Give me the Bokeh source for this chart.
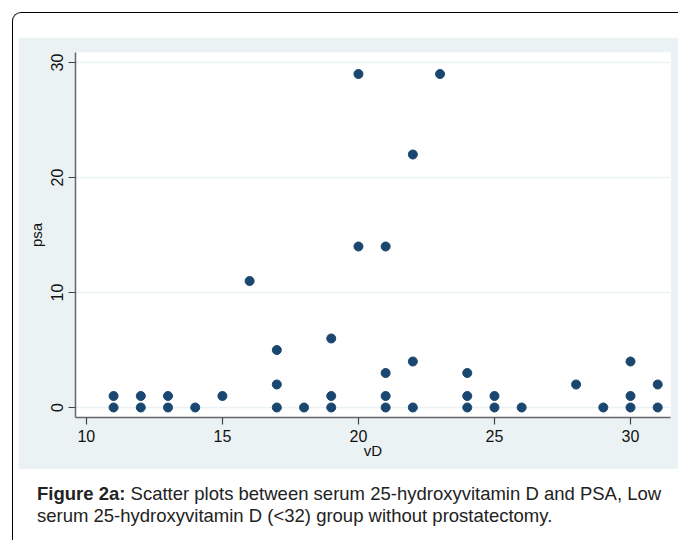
from bokeh.plotting import figure
from bokeh.models import Range1d, FixedTicker, Div
from bokeh.layouts import column
from bokeh.embed import file_html
from bokeh.resources import INLINE

# data
vd = [11, 11, 12, 12, 13, 13, 14, 15, 16, 17, 17, 17, 18, 19, 19, 19,
      20, 20, 21, 21, 21, 21, 22, 22, 22, 23, 24, 24, 24, 25, 25, 26,
      28, 29, 30, 30, 30, 31, 31]
psa = [0, 1, 0, 1, 0, 1, 0, 1, 11, 0, 2, 5, 0, 0, 1, 6,
       14, 29, 0, 1, 3, 14, 0, 4, 22, 29, 0, 1, 3, 0, 1, 0,
       2, 0, 0, 1, 4, 0, 2]
x_ticks = [10, 15, 20, 25, 30]
y_ticks = [0, 10, 20, 30]
x_title = "vD"
y_title = "psa"
caption_bold = "Figure 2a:"
caption_1 = "Scatter plots between serum 25-hydroxyvitamin D and PSA, Low"
caption_2 = "serum 25-hydroxyvitamin D (&lt;32) group without prostatectomy."

PANEL = "#eaf2f3"
FONT = "Liberation Sans"

p = figure(width=660, height=432, output_backend="svg", toolbar_location=None,
           x_range=Range1d(9.6, 31.47), y_range=Range1d(-0.87, 30.87),
           min_border_left=57, min_border_right=8, min_border_top=15,
           min_border_bottom=52, background_fill_color="white",
           border_fill_color=PANEL, outline_line_color=None,
           margin=(24, 0, 0, 5))

p.scatter(vd, psa, size=9, color="#1a476f", line_color="#1a476f")

for ax in (p.xaxis[0], p.yaxis[0]):
    ax.axis_line_color = "#666666"
    ax.axis_line_width = 1.5
    ax.major_tick_line_color = "#444444"
    ax.major_tick_line_width = 1.2
    ax.major_tick_out = 7
    ax.major_tick_in = 0
    ax.minor_tick_out = 0
    ax.minor_tick_in = 0
    ax.major_label_text_font = FONT
    ax.major_label_text_font_size = "16px"
    ax.major_label_text_color = "#111111"
    ax.axis_label_text_font = FONT
    ax.axis_label_text_font_size = "15px"
    ax.axis_label_text_font_style = "normal"
    ax.axis_label_text_color = "#111111"

p.xaxis.ticker = FixedTicker(ticks=x_ticks)
p.yaxis.ticker = FixedTicker(ticks=y_ticks)
p.xaxis.axis_label = x_title
p.yaxis.axis_label = y_title
p.xaxis.major_label_standoff = 5
p.xaxis.axis_label_standoff = -3
p.yaxis.major_label_orientation = "vertical"
p.yaxis.major_label_standoff = 5
p.yaxis.axis_label_standoff = 4

p.xgrid.visible = False
p.ygrid.ticker = FixedTicker(ticks=y_ticks)
p.ygrid.grid_line_color = PANEL
p.ygrid.grid_line_width = 1.5

cap = Div(text=f"<b>{caption_bold}</b> {caption_1}<br>{caption_2}",
          width=640, height=56, margin=(14, 0, 0, 24),
          styles={"font-family": FONT, "font-size": "18.5px",
                  "line-height": "22px", "color": "#222222",
                  "white-space": "nowrap"})

page = column(p, cap, width=666, height=528, margin=(12, 0, 0, 12),
              styles={"border-top": "1.5px solid #000000",
                      "border-left": "1.5px solid #000000",
                      "border-top-left-radius": "9px",
                      "background": "white"})

open("out.html", "w").write(file_html(page, INLINE))
